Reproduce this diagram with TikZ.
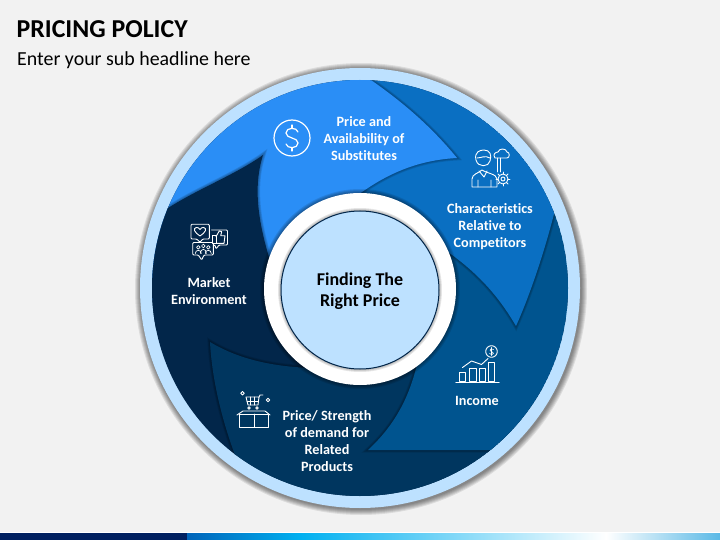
\documentclass[tikz,border=0pt]{standalone}
\usepackage{fontspec}
\setmainfont{Carlito}[Ligatures=CommonOff]
\usetikzlibrary{calc}
\definecolor{pagebg}{HTML}{F2F2F2}
\definecolor{ringblue}{HTML}{BDE1FF}
\definecolor{bladea}{HTML}{2A8EF6}
\definecolor{bladeb}{HTML}{0A6FC2}
\definecolor{bladec}{HTML}{00548F}
\definecolor{blademid}{HTML}{00365F}
\definecolor{bladee}{HTML}{02264A}
\definecolor{barnavy}{HTML}{002060}
\definecolor{barblue}{HTML}{0064B9}
\definecolor{barsky}{HTML}{00B0F0}
\definecolor{barend}{HTML}{5AB9E6}
\tikzset{
	lbl/.style={text=white,align=center,font=\fontsize{14.2}{17}\selectfont\bfseries},
	icon/.style={draw=white,line width=0.9,line join=round,line cap=round},
}
%blade: colour, edge that shows, rest of the outline
\newcommand{\drawblade}[3]{
	\foreach \w in {5,3.5,2}{
		\draw[black,opacity=0.1,line width=\w] #2;
	}
	\fill[#1] #2 #3 -- cycle;
}
\begin{document}
\begin{tikzpicture}[x=1pt,y=-1pt]
	\useasboundingbox (0,0) rectangle (720,540);
	\fill[pagebg] (0,0) rectangle (720,540);
	\coordinate (ctr) at (360,288);
	
	%bottom bar
	\fill[white] (0,532) rectangle (720,533);
	\fill[barnavy] (0,533) rectangle (187,540);
	\shade[left color=barblue,right color=barsky] (187,533) rectangle (300,540);
	\shade[left color=barsky,right color=white] (300,533) rectangle (606,540);
	\shade[left color=white,right color=barend] (606,533) rectangle (720,540);
	
	%title
	\node[anchor=west,inner sep=0,font=\fontsize{25.8}{26}\selectfont\bfseries] (title) at (16.5,29) {PRICING POLICY};
	\node[anchor=west,inner sep=0,font=\fontsize{19.9}{20}\selectfont] (subtitle) at (17,60) {Enter your sub headline here};
	
	%outer shadow
	\foreach \r in {226,225,224,223,222,221}{
		\fill[black,opacity=0.09] (361,289) circle[radius=\r];
	}
	\fill[ringblue] (ctr) circle[radius=220];
	
	\begin{scope}
		\clip (ctr) circle[radius=208];
		\fill[bladee] (ctr) circle[radius=208];
		%market environment is under the others, its tip comes last
		\drawblade{blademid}{(245,490) -- (235,455) .. controls (222,420) and (212,380) .. (210,342) .. controls (240,360) and (280,370) .. (340,368)}{-- (360,288) -- (620,430) -- (620,560) -- (240,560)}
		\drawblade{bladec}{(620,450) -- (368,450) .. controls (395,425) and (412,395) .. (420,350)}{-- (360,288) -- (560,150) -- (640,200) -- (640,450)}
		\drawblade{bladeb}{(562,190) -- (555,210) .. controls (545,250) and (530,295) .. (516,326) .. controls (495,290) and (470,265) .. (430,240)}{-- (360,288) -- (340,60) -- (600,60)}
		\drawblade{bladea}{(350,64) -- (368,78) .. controls (400,100) and (430,125) .. (457,158) .. controls (420,160) and (385,172) .. (345,205)}{-- (300,300) -- (130,300) -- (130,60)}
		\drawblade{bladee}{(130,232) -- (165,210) .. controls (195,190) and (235,175) .. (263,155) .. controls (252,190) and (258,230) .. (280,290)}{-- (280,330) -- (120,330)}
	\end{scope}
	
	%middle
	\foreach \r in {100,99,98,97}{
		\fill[black,opacity=0.1] (360,289) circle[radius=\r];
	}
	\fill[white] (360,289) circle[radius=96];
	\foreach \r in {82,81,80}{
		\fill[black,opacity=0.1] (360,290) circle[radius=\r];
	}
	\node[circle,fill=ringblue,draw=bladee,line width=1,minimum size=158,inner sep=0] (hub) at (360,290) {};
	\node[align=center,inner sep=0,font=\fontsize{18}{21}\selectfont\bfseries] (hubtext) at (360,291.5) {Finding The\\Right Price};
	
	%labels
	\node[lbl] (substitutes) at (364,138.7) {Price and\\Availability of\\Substitutes};
	\node[lbl] (competitors) at (490,226.7) {Characteristics\\Relative to\\Competitors};
	\node[lbl] (income) at (477,400.7) {Income};
	\node[lbl] (related) at (327,441.5) {Price/ Strength\\of demand for\\Related\\Products};
	\node[lbl] (market) at (209,290.7) {Market\\Environment};
	
	%dollar icon
	\draw[icon,line width=1.2] (292,138) circle[radius=18];
	\draw[icon,line width=1.2] (298,132) .. controls (297,127) and (286,127) .. (286,133) .. controls (286,139) and (298,137) .. (298,143) .. controls (298,149) and (287,149) .. (286,144);
	\draw[icon,line width=1.2] (292,125) -- (292,128) (292,148) -- (292,151);
	
	%person icon
	\draw[icon] (476,160) .. controls (474,152) and (480,150) .. (484,150) .. controls (490,150) and (492,155) .. (490,161) .. controls (489,167) and (478,168) .. (476,160) -- cycle;
	\draw[icon] (477,158) .. controls (481,158) and (485,155) .. (490,158);
	\draw[icon] (472,187) -- (472,179) .. controls (472,174) and (479,173) .. (482,170) .. controls (486,173) and (497,174) .. (497,179) -- (497,187) -- cycle;
	\draw[icon] (478,187) -- (478,180) (491,187) -- (491,180) (479,171) -- (484,177) -- (487,171);
	\draw[icon] (503,179) circle[radius=5];
	\draw[icon] (503,179) circle[radius=2];
	\foreach \a in {0,45,...,315}{
		\draw[icon] ($(503,179)+(\a:5)$) -- ($(503,179)+(\a:7)$);
	}
	\draw[icon] (495,158) .. controls (492,154) and (496,152) .. (498,152) .. controls (499,148) and (506,148) .. (507,152) .. controls (510,152) and (510,158) .. (507,158) -- cycle;
	\draw[icon] (497,158) -- (497,172) (500,158) -- (500,172);
	
	%speech bubbles icon
	\draw[icon,rounded corners=1] (191,224.3) -- (209.3,224.3) -- (209.3,239) -- (202.7,239) -- (200,242.3) -- (196.7,239) -- (191,239) -- cycle;
	\draw[icon] (200,229.5) .. controls (198,226) and (193.5,227.5) .. (194.5,230.5) .. controls (195,233) and (198,234) .. (200,236) .. controls (202,234) and (205,233) .. (205.5,230.5) .. controls (206.5,227.5) and (202,226) .. (200,229.5);
	\draw[icon,rounded corners=1] (211.5,230) -- (227.5,230) -- (227.5,245) -- (219,245) -- (216,249) -- (215,245) -- (213.5,245);
	\draw[icon] (212.7,235.7) rectangle (216,243.3);
	\draw[icon] (216,236.7) -- (219.3,230.9) -- (221.7,231.7) -- (220.7,235.7) -- (225,235.7) -- (224,243.3) -- (216,243.3);
	\draw[icon,rounded corners=1] (192.7,242.5) -- (213.3,242.5) -- (213.3,255) -- (204,255) -- (201.7,260) -- (198.3,255) -- (192.7,255) -- cycle;
	\foreach \x/\y in {198.3/247.3,208.3/247.3,203.3/246}{
		\draw[icon,line width=0.7] (\x,\y) circle[radius=1.8];
		\draw[icon,line width=0.7] (\x-3,253.5) .. controls (\x-3,\y+2) and (\x+3,\y+2) .. (\x+3,253.5);
	}
	
	%cart icon
	\draw[icon] (239,414) rectangle (268,427);
	\draw[icon] (254,414) -- (254,427);
	\draw[icon] (237,415) -- (243,411) -- (265,411) -- (270,415);
	\draw[icon] (246,397) -- (259,397) -- (258,405) -- (248,405) -- cycle;
	\draw[icon] (250,397) -- (250,405) (254,397) -- (254,405) (247,401) -- (258,401);
	\draw[icon] (259,397) -- (260,395) -- (263,395);
	\draw[icon] (249,408) circle[radius=1.2] (257,408) circle[radius=1.2];
	\draw[icon] (242.5,391.5) -- (244.3,393.3) -- (242.5,395.1) -- (240.7,393.3) -- cycle;
	\draw[icon] (268,398.2) -- (269.8,400) -- (268,401.8) -- (266.2,400) -- cycle;
	
	%income icon
	\draw[icon,line width=1.1] (456,382.5) -- (499,382.5);
	\draw[icon] (459.5,381) rectangle (465.5,372);
	\draw[icon] (469.5,381) rectangle (476,368);
	\draw[icon] (479,381) rectangle (485.5,368.5);
	\draw[icon] (488.5,381) rectangle (494.5,362);
	\draw[icon] (462.5,367.5) -- (471.5,361) -- (481.5,364.5) -- (488,358.5);
	\draw[icon] (491.5,351.5) circle[radius=5.8];
	\draw[icon,line width=0.6] (493.5,349.5) .. controls (492,348) and (489.5,349) .. (490,350.5) .. controls (490.5,352) and (493.5,351.5) .. (493.5,353.3) .. controls (493.5,355) and (490.5,355) .. (489.5,353.5);
	\draw[icon,line width=0.6] (491.5,347.5) -- (491.5,355.5);
\end{tikzpicture}
\end{document}
